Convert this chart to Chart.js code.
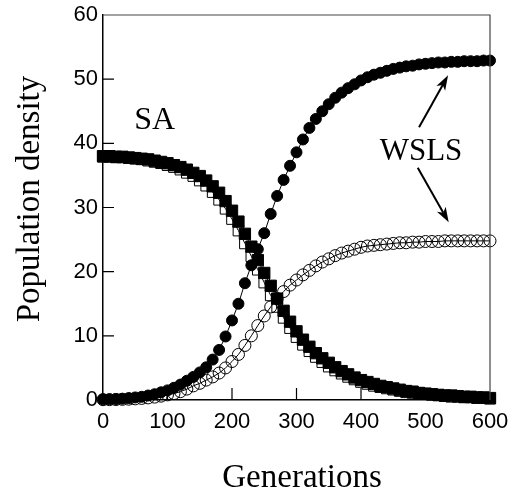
<!DOCTYPE html>
<html>
<head>
<meta charset="utf-8">
<script src="https://cdn.jsdelivr.net/npm/chart.js@4/dist/chart.umd.min.js"></script>
<style>
  html, body { margin: 0; padding: 0; background: #fff; }
  #wrap { width: 512px; height: 490px; }
</style>
</head>
<body>
<div id="wrap"><canvas id="pop-chart" width="512" height="490"></canvas></div>
<script>
// generations, one marker every 10
const gens = [0, 10, 20, 30, 40, 50, 60, 70, 80, 90,
  100, 110, 120, 130, 140, 150, 160, 170, 180, 190,
  200, 210, 220, 230, 240, 250, 260, 270, 280, 290,
  300, 310, 320, 330, 340, 350, 360, 370, 380, 390,
  400, 410, 420, 430, 440, 450, 460, 470, 480, 490,
  500, 510, 520, 530, 540, 550, 560, 570, 580, 590, 600];

// WSLS, filled circles
const wslsFilled = [0.1, 0.1, 0.15, 0.2, 0.3, 0.4, 0.5, 0.7, 0.9, 1.2,
  1.5, 1.9, 2.4, 3.0, 3.6, 4.3, 5.1, 6.3, 7.8, 9.9,
  12.4, 15.0, 18.2, 21.0, 23.5, 26.0, 29.0, 31.8, 34.3, 36.5,
  38.6, 40.6, 42.4, 43.8, 45.0, 46.1, 47.1, 47.9, 48.6, 49.2,
  49.8, 50.3, 50.7, 51.0, 51.3, 51.6, 51.8, 52.0, 52.1, 52.3,
  52.4, 52.5, 52.6, 52.6, 52.7, 52.7, 52.8, 52.8, 52.8, 52.9, 52.9];

// WSLS, open circles
const wslsOpen = [0.05, 0.05, 0.07, 0.1, 0.13, 0.18, 0.25, 0.33, 0.45, 0.6,
  0.8, 1.0, 1.3, 1.7, 2.2, 2.6, 3.1, 3.6, 4.2, 5.0,
  6.0, 7.1, 8.5, 10.0, 11.6, 13.1, 14.5, 15.8, 16.9, 17.9,
  18.7, 19.5, 20.2, 20.9, 21.5, 22.0, 22.5, 22.9, 23.2, 23.5,
  23.8, 24.0, 24.1, 24.2, 24.3, 24.4, 24.5, 24.5, 24.6, 24.6,
  24.7, 24.7, 24.7, 24.8, 24.8, 24.8, 24.8, 24.8, 24.8, 24.8, 24.8];

// SA, filled squares
const saFilled = [38.0, 38.0, 37.9, 37.9, 37.8, 37.7, 37.6, 37.5, 37.3, 37.1,
  36.9, 36.6, 36.3, 35.9, 35.4, 34.9, 34.2, 33.3, 32.3, 31.0,
  29.5, 27.8, 25.9, 23.9, 21.8, 19.8, 17.8, 15.8, 13.9, 12.2,
  10.7, 9.4, 8.3, 7.3, 6.5, 5.8, 5.1, 4.5, 4.0, 3.5,
  3.1, 2.8, 2.5, 2.2, 2.0, 1.8, 1.6, 1.4, 1.3, 1.1,
  1.0, 0.9, 0.8, 0.7, 0.7, 0.6, 0.5, 0.5, 0.4, 0.4, 0.3];

// SA, open squares
const saOpen = [37.9, 37.9, 37.8, 37.8, 37.7, 37.6, 37.5, 37.3, 37.1, 36.9,
  36.6, 36.3, 35.9, 35.4, 34.9, 34.2, 33.4, 32.4, 31.2, 29.8,
  28.2, 26.4, 24.4, 22.4, 20.3, 18.3, 16.3, 14.5, 12.8, 11.2,
  9.8, 8.6, 7.6, 6.7, 5.9, 5.2, 4.6, 4.1, 3.6, 3.2,
  2.8, 2.5, 2.2, 2.0, 1.8, 1.6, 1.4, 1.2, 1.1, 1.0,
  0.9, 0.8, 0.7, 0.6, 0.5, 0.5, 0.4, 0.4, 0.3, 0.3, 0.2];

const xTicks = [0, 100, 200, 300, 400, 500, 600];
const yTicks = [0, 10, 20, 30, 40, 50, 60];

const serif = "'Liberation Serif', 'Times New Roman', serif";
const sans = "'Liberation Sans', Arial, sans-serif";

function pts(vals) {
  return gens.map((g, i) => ({x: g, y: vals[i]}));
}

function series(vals, style, radius, filled) {
  return {
    data: pts(vals),
    borderColor: '#000',
    borderWidth: 1,
    pointStyle: style,
    pointRadius: radius,
    pointBorderWidth: 1,
    pointBorderColor: '#000',
    pointBackgroundColor: filled ? '#000' : 'rgba(0,0,0,0)',
    tension: 0,
    clip: false
  };
}

// arrows and labels, given in data units
const arrows = [[490, 42.5, 535, 50.6], [488, 36.2, 536, 27.7]];

const extras = {
  id: 'extras',
  afterDraw(chart) {
    const ctx = chart.ctx;
    const a = chart.chartArea;
    const xs = chart.scales.x, ys = chart.scales.y;
    ctx.save();

    // top and right frame
    ctx.strokeStyle = '#444';
    ctx.lineWidth = 1.2;
    ctx.beginPath();
    ctx.moveTo(a.left, a.top);
    ctx.lineTo(a.right, a.top);
    ctx.lineTo(a.right, a.bottom);
    ctx.stroke();

    // inward ticks
    ctx.strokeStyle = '#000';
    ctx.lineWidth = 1.2;
    ctx.beginPath();
    xTicks.slice(1, -1).forEach(v => {
      const px = xs.getPixelForValue(v);
      ctx.moveTo(px, a.bottom);
      ctx.lineTo(px, a.bottom - 12);
    });
    yTicks.slice(1, -1).forEach(v => {
      const py = ys.getPixelForValue(v);
      ctx.moveTo(a.left, py);
      ctx.lineTo(a.left + 11, py);
    });
    ctx.stroke();

    // annotations
    ctx.fillStyle = '#000';
    ctx.textAlign = 'center';
    ctx.textBaseline = 'middle';
    ctx.font = '32px ' + serif;
    ctx.fillText('SA', xs.getPixelForValue(80), ys.getPixelForValue(43.6));
    ctx.font = '31px ' + serif;
    ctx.fillText('WSLS', xs.getPixelForValue(493), ys.getPixelForValue(38.6));

    arrows.forEach(([x0, y0, x1, y1]) => {
      const sx = xs.getPixelForValue(x0), sy = ys.getPixelForValue(y0);
      const ex = xs.getPixelForValue(x1), ey = ys.getPixelForValue(y1);
      const ang = Math.atan2(ey - sy, ex - sx);
      const len = 15, w = 5;
      const bx = ex - len * Math.cos(ang), by = ey - len * Math.sin(ang);
      ctx.lineWidth = 2;
      ctx.beginPath();
      ctx.moveTo(sx, sy);
      ctx.lineTo(bx + 4 * Math.cos(ang), by + 4 * Math.sin(ang));
      ctx.stroke();
      ctx.beginPath();
      ctx.moveTo(ex, ey);
      ctx.lineTo(bx + w * Math.sin(ang), by - w * Math.cos(ang));
      ctx.lineTo(bx + 4 * Math.cos(ang), by + 4 * Math.sin(ang));
      ctx.lineTo(bx - w * Math.sin(ang), by + w * Math.cos(ang));
      ctx.closePath();
      ctx.fill();
    });

    // axis titles
    ctx.font = '33px ' + serif;
    ctx.textBaseline = 'alphabetic';
    ctx.fillText('Generations', 302, 487);
    ctx.translate(39, 199);
    ctx.rotate(-Math.PI / 2);
    ctx.fillText('Population density', 0, 0);
    ctx.restore();
  }
};

const config = {
  type: 'line',
  data: {
    datasets: [
      series(wslsFilled, 'circle', 5.5, true),
      series(saFilled, 'rect', 8, true),
      series(wslsOpen, 'circle', 6, false),
      series(saOpen, 'rect', 7.5, false)
    ]
  },
  options: {
    responsive: false,
    animation: false,
    events: [],
    layout: {padding: {top: 15, right: 22, left: 0, bottom: 0}},
    plugins: {legend: {display: false}, tooltip: {enabled: false}},
    scales: {
      x: {
        type: 'linear',
        min: 0, max: 600,
        afterFit: s => { s.height = 90; s.paddingLeft = 0; s.paddingRight = 0; },
        afterBuildTicks: s => { s.ticks = xTicks.map(v => ({value: v})); },
        grid: {display: false, drawTicks: false},
        border: {display: true, color: '#000', width: 1.5},
        ticks: {color: '#000', padding: 9, autoSkip: false, maxRotation: 0,
                font: {family: sans, size: 22}}
      },
      y: {
        type: 'linear',
        min: 0, max: 60,
        afterFit: s => { s.width = 103; s.paddingTop = 0; s.paddingBottom = 0; },
        afterBuildTicks: s => { s.ticks = yTicks.map(v => ({value: v})); },
        grid: {display: false, drawTicks: false},
        border: {display: true, color: '#000', width: 1.5},
        ticks: {color: '#000', padding: 5, autoSkip: false,
                font: {family: sans, size: 22}}
      }
    }
  },
  plugins: [extras]
};

const myChart = new Chart(document.getElementById('pop-chart'), config);
</script>
</body>
</html>
